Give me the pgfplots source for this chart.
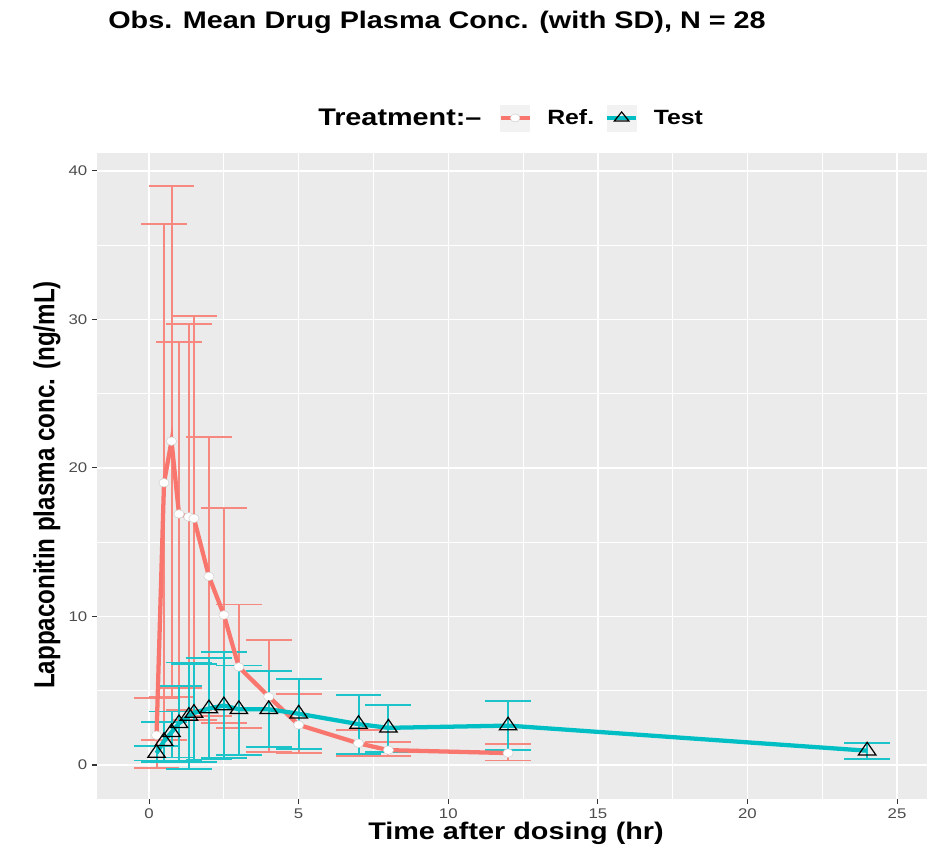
\documentclass[border=0pt]{standalone}
\usepackage{fontspec}
\setmainfont{Liberation Sans}
\newfontfamily\hfont[FakeStretch=1.2]{Liberation Sans}
\newfontfamily\vfont[FakeStretch=0.8333]{Liberation Sans}
\usepackage{pgfplots}
\pgfplotsset{compat=1.18}
\usepackage{pgfplotstable}
\definecolor{refc}{HTML}{F8766D}
\definecolor{testc}{HTML}{00BFC4}
\definecolor{panelbg}{HTML}{EBEBEB}
\definecolor{tickgray}{HTML}{4D4D4D}
\definecolor{keybg}{HTML}{F2F2F2}

\pgfplotstableread{
t    m     lo     hi
0.25 2.0   -0.2   4.5
0.5  19.0  1.7    36.4
0.75 21.8  4.6    39.0
1.0  16.9  5.2    28.5
1.33 16.7  3.7    29.7
1.5  16.6  3.0    30.2
2    12.7  3.3    22.1
2.5  10.1  2.8    17.3
3    6.6   2.5    10.8
4    4.6   0.9    8.4
5    2.7   0.8    4.8
7    1.46  0.6    2.36
8    1.0   0.6    1.57
12   0.8   0.3    1.39
}\refdata

\pgfplotstableread{
t    m     lo     hi
0.25 0.8   0.3    1.28
0.5  1.6   0.2    2.9
0.75 2.2   0.5    3.6
1.0  2.8   0.3    5.3
1.33 3.3   -0.25  6.9
1.5  3.5   0.2    6.8
2    3.8   0.37   7.2
2.5  4.0   0.45   7.6
3    3.75  0.7    6.7
4    3.75  1.2    6.3
5    3.45  1.1    5.8
7    2.75  0.75   4.7
8    2.5   0.9    4.05
12   2.65  1.0    4.33
24   0.96  0.42   1.5
}\testdata

\begin{document}
\begin{tikzpicture}
\useasboundingbox (0,0) rectangle (699.75pt,633.75pt);
\begin{axis}[
  name=ax, at={(72.75pt,34.5pt)}, anchor=south west,
  scale only axis, width=622.5pt, height=484.5pt,
  xmin=-1.74, xmax=26.0, ymin=-2.29, ymax=41.2,
  axis background/.style={fill=panelbg},
  axis line style={draw=none},
  xtick={0,5,10,15,20,25}, ytick={0,10,20,30,40},
  minor xtick={2.5,7.5,12.5,17.5,22.5}, minor ytick={5,15,25,35},
  grid=both,
  major grid style={white, line width=1.1pt},
  minor grid style={white, line width=0.55pt},
  tick pos=left, tick align=outside,
  major tick length=3.75pt, minor tick length=0pt,
  tick style={black!80, line width=0.8pt},
  ticklabel style={font=\hfont\fontsize{10.5}{10.5}\selectfont, text=tickgray},
  /pgf/number format/assume math mode=true,
  legend columns=2,
  legend cell align=left,
  legend style={at={(axis description cs:0.4843,1.0542)}, anchor=west,
    draw=none, fill=none, inner sep=0pt, outer sep=0pt,
    font=\hfont\bfseries\fontsize{15.5}{15.5}\selectfont,
    nodes={inner sep=0pt},
    /tikz/every odd column/.append style={column sep=12pt},
    /tikz/every even column/.append style={column sep=8.5pt}},
]
% error bars
\addplot[draw=none, mark=none, forget plot,
  error bars/.cd, y dir=both, y explicit, error mark=|,
  error bar style={draw=refc!85!panelbg, line width=1.5pt},
  error mark options={draw=refc!85!panelbg, line width=1.4pt, mark size=17.2pt}]
  table[x=t, y=m, y error plus expr=\thisrow{hi}-\thisrow{m}, y error minus expr=\thisrow{m}-\thisrow{lo}] {\refdata};
\addplot[draw=none, mark=none, forget plot,
  error bars/.cd, y dir=both, y explicit, error mark=|,
  error bar style={draw=testc!88!panelbg, line width=1.5pt},
  error mark options={draw=testc!88!panelbg, line width=1.4pt, mark size=17.2pt}]
  table[x=t, y=m, y error plus expr=\thisrow{hi}-\thisrow{m}, y error minus expr=\thisrow{m}-\thisrow{lo}] {\testdata};
% lines
\addplot[refc, line width=3.2pt, mark=none, forget plot] table[x=t, y=m] {\refdata};
\addplot[testc, line width=3.2pt, mark=none, forget plot] table[x=t, y=m] {\testdata};
% points
\addplot[only marks, mark=*, mark size=3.2pt, forget plot,
  mark options={fill=white, draw=gray!35, line width=0.4pt, xscale=1.2}] table[x=t, y=m] {\refdata};
\addplot[only marks, mark=triangle, mark size=6.3pt, forget plot,
  mark options={draw=black, line width=0.9pt, xscale=1.2}] table[x=t, y=m] {\testdata};
% legend
\addlegendimage{legend image code/.code={
  \fill[keybg] (0pt,-9.75pt) rectangle (21.75pt,9.75pt);
  \draw[refc, line width=2.5pt] (0pt,0pt) -- (21.75pt,0pt);
  \draw[gray!35, fill=white, line width=0.4pt] (10.875pt,0pt) ellipse [x radius=3.6pt, y radius=3pt];}}
\addlegendentry{Ref.}
\addlegendimage{legend image code/.code={
  \fill[keybg] (0pt,-9.75pt) rectangle (21.75pt,9.75pt);
  \draw[testc, line width=2.5pt] (0pt,0pt) -- (21.75pt,0pt);
  \draw[black, line width=0.9pt] (10.875pt,4.5pt) -- (16.3pt,-2.25pt) -- (5.45pt,-2.25pt) -- cycle;}}
\addlegendentry{Test}
\end{axis}
\begin{scope}[x=0.75pt, y=-0.75pt, shift={(0pt,633.75pt)}]
\node[anchor=base west, inner sep=0pt, font=\hfont\bfseries\fontsize{18}{18}\selectfont] at (108,29) {Obs. Mean Drug Plasma Conc. (with SD), N = 28};
\node[anchor=base west, inner sep=0pt, font=\hfont\bfseries\fontsize{18}{18}\selectfont] at (318,126) {Treatment:–};
\node[anchor=base, inner sep=0pt, font=\hfont\bfseries\fontsize{18}{18}\selectfont] at (516,840) {Time after dosing (hr)};
\node[rotate=90, anchor=center, inner sep=0pt, font=\vfont\bfseries\fontsize{21.75}{21.75}\selectfont] at (47,485) {Lappaconitin plasma conc. (ng/mL)};
\end{scope}
\end{tikzpicture}
\end{document}
